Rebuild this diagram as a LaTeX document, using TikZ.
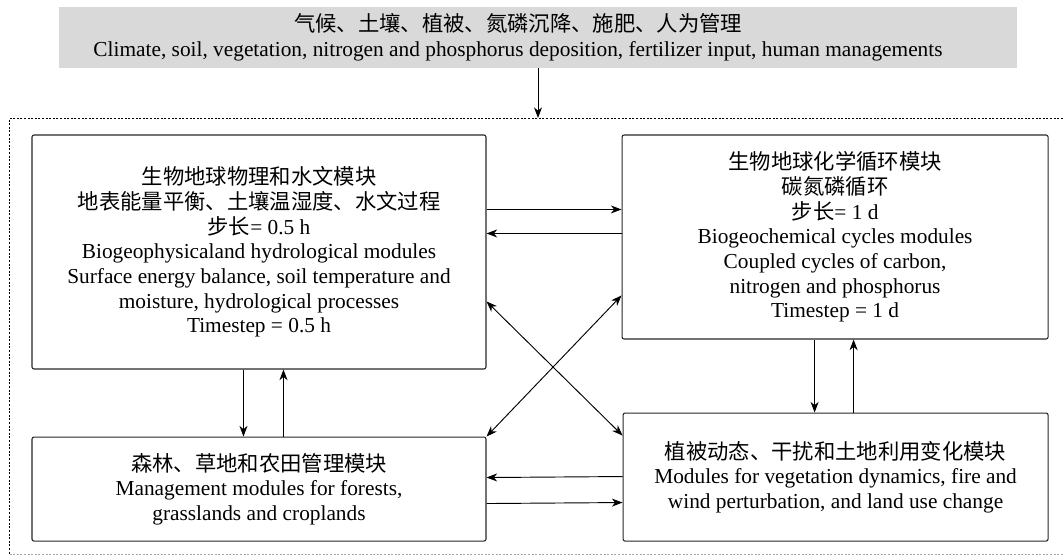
\documentclass[tikz,border=0pt]{standalone}
\usepackage{fontspec}
\setmainfont{Liberation Serif}
\newfontfamily\cjk{Noto Sans CJK SC}
\usetikzlibrary{positioning, calc, arrows.meta}

\begin{document}
\begin{tikzpicture}[x=0.75pt, y=-0.75pt, >={Stealth[length=8pt, width=6pt, inset=2.5pt]},
    every node/.style={font=\fontsize{16}{18.5}\selectfont},
    modbox/.style={rectangle, draw=black!85, line width=0.8pt, rounded corners=1.5pt, align=center, inner sep=0pt},
    link/.style={->, line width=0.7pt}]
    \useasboundingbox (0,0) rectangle (1063,556);
    \node[fill=black!15, minimum width=718.5pt, minimum height=45.75pt, align=center, inner sep=0pt](drivers) at (538,37.5){{\cjk 气候、土壤、植被、氮磷沉降、施肥、人为管理}\hspace*{30pt}\\Climate, soil, vegetation, nitrogen and phosphorus deposition, fertilizer input, human managements\hspace*{30pt}};
    % frame round the model
    \draw[dash pattern=on 1.5pt off 1.2pt] (1070,118) -- (9.5,118) -- (9.5,554);
    \draw[black!35, dash pattern=on 1.5pt off 1.2pt] (9.5,554) -- (1070,554);
    \coordinate (frametop) at (538,118);
    \node[modbox, minimum width=340.5pt, minimum height=175.5pt](biophys) at (259,252){{\cjk 生物地球物理和水文模块}\\{\cjk 地表能量平衡、土壤温湿度、水文过程}\\{\cjk 步长}= 0.5 h\\Biogeophysicaland hydrological modules\\Surface energy balance, soil temperature and\\moisture, hydrological processes\\Timestep = 0.5 h};
    \node[modbox, minimum width=319.5pt, minimum height=153pt, right=101.25pt of biophys.north east, anchor=north west](biochem){{\cjk 生物地球化学循环模块}\\{\cjk 碳氮磷循环}\\{\cjk 步长}= 1 d\\Biogeochemical cycles modules\\Coupled cycles of carbon,\\nitrogen and phosphorus\\Timestep = 1 d};
    \node[modbox, minimum width=340.5pt, minimum height=78pt, below=50.25pt of biophys.south west, anchor=north west](manage){{\cjk 森林、草地和农田管理模块}\\Management modules for forests,\\grasslands and croplands};
    \node[modbox, minimum width=318.75pt, minimum height=96pt, below=54.75pt of biochem.south east, anchor=north east](veg){{\cjk 植被动态、干扰和土地利用变化模块}\\Modules for vegetation dynamics, fire and\\wind perturbation, and land use change};
    % Arrows
    \draw[link] (drivers) -- (frametop);
    \draw[link] ($(biophys.north east)+(0,75)$) -- ($(biochem.north west)+(0,75)$);
    \draw[link] ($(biochem.north west)+(0,99)$) -- ($(biophys.north east)+(0,99)$);
    \draw[link] ($(biophys.south west)+(212,0)$) -- ($(manage.north west)+(212,0)$);
    \draw[link] ($(manage.north west)+(252,0)$) -- ($(biophys.south west)+(252,0)$);
    \draw[link] ($(biochem.south east)+(-234,0)$) -- ($(veg.north east)+(-234,0)$);
    \draw[link] ($(veg.north east)+(-195,0)$) -- ($(biochem.south east)+(-195,0)$);
    \draw[link] ($(veg.north west)+(0,64)$) -- ($(manage.north east)+(0,41)$);
    \draw[link] ($(manage.north east)+(0,67)$) -- ($(veg.north west)+(0,90)$);
    \draw[link, <->] ($(biophys.north east)+(0,167)$) -- ($(veg.north west)+(0,23)$);
    \draw[link, <->] ($(biochem.north west)+(0,161)$) -- (manage.north east);
\end{tikzpicture}
\end{document}
